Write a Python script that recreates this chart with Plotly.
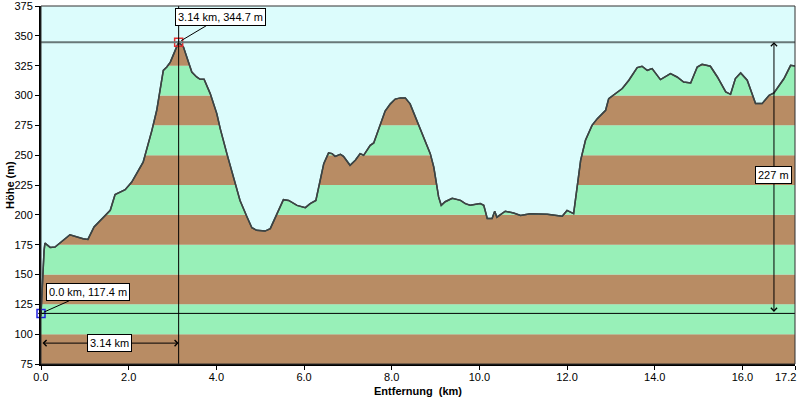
import plotly.graph_objects as go
import numpy as np

# ---- data ----
dist_km = [0.0, 0.04, 0.07, 0.09, 0.21, 0.32, 0.66, 0.96, 1.07, 1.21, 1.58, 1.69, 1.92, 2.07, 2.33,
           2.53, 2.64, 2.79, 2.87, 2.95, 3.06, 3.14, 3.25, 3.36, 3.44, 3.55, 3.63, 3.72, 3.86, 4.01,
           4.09, 4.24, 4.43, 4.54, 4.70, 4.81, 4.92, 5.11, 5.23, 5.38, 5.53, 5.65, 5.84, 6.03, 6.14,
           6.27, 6.33, 6.45, 6.56, 6.64, 6.71, 6.83, 6.90, 7.05, 7.17, 7.28, 7.36, 7.51, 7.59, 7.78,
           7.85, 7.97, 8.08, 8.20, 8.31, 8.42, 8.58, 8.73, 8.88, 8.96, 9.02, 9.07, 9.13, 9.22, 9.38,
           9.57, 9.68, 9.79, 10.02, 10.10, 10.18, 10.29, 10.35, 10.40, 10.59, 10.78, 10.94, 11.16,
           11.55, 11.89, 12.00, 12.15, 12.23, 12.31, 12.42, 12.57, 12.69, 12.88, 12.95, 13.11, 13.26,
           13.41, 13.60, 13.71, 13.83, 13.94, 14.13, 14.36, 14.51, 14.66, 14.82, 14.97, 15.08, 15.27,
           15.43, 15.62, 15.73, 15.84, 15.96, 16.11, 16.30, 16.45, 16.61, 16.72, 16.95, 17.10, 17.2]
elev_m = [117.4, 150, 170, 176.3, 172.7, 173, 183.3, 180, 179.4, 189.8, 203.8, 217, 221.1, 227.5, 244.2,
          270.8, 287.6, 321, 323.9, 328, 337.9, 344.7, 340.6, 328, 319.7, 315.5, 313.6, 313.6, 301.6, 284.8,
          272, 251.3, 226, 212, 198.2, 189.2, 187, 186.4, 188.4, 201, 212.7, 212.1, 207.9, 206, 209.4,
          212.1, 223.3, 242.9, 251.9, 251.3, 249, 250.7, 249, 241.5, 245.7, 251.3, 249.9, 258.2, 260.2, 279.2,
          287, 293, 297, 298, 298, 293, 279, 265.3, 251.3, 240, 226, 215, 208, 211, 213.9,
          212.1, 209.4, 208, 209.4, 208, 197, 197, 203, 198, 203, 201.5, 199.5, 201,
          200.4, 198.8, 203.7, 201, 223.3, 245.7, 262.5, 275, 280.6, 287.6, 297.4, 301.6, 305.8,
          312.8, 323.4, 324.5, 321.1, 322.5, 313.3, 318.3, 315.5, 311.3, 310.5, 323.9, 326.1, 324.5,
          315.5, 303, 301, 314.2, 318.9, 312.8, 293.2, 293.2, 300.2, 302.1, 314.2, 325.3, 324.8]

x_ticks = [0.0, 2.0, 4.0, 6.0, 8.0, 10.0, 12.0, 14.0, 16.0, 17.2]
x_tick_text = ["0.0", "2.0", "4.0", "6.0", "8.0", "10.0", "12.0", "14.0", "16.0", "17.2"]
y_ticks = [75, 100, 125, 150, 175, 200, 225, 250, 275, 300, 325, 350, 375]

max_point = (3.14, 344.7)
start_point = (0.0, 117.4)
dist_label = "3.14 km"
climb_label = "227 m"
climb_x = 16.72
dist_arrow_y = 92.5
x_title = "Entfernung  (km)"
y_title = "Höhe (m)"

X_MIN, X_MAX = 0.0, 17.2
Y_MIN, Y_MAX = 75, 375

SKY = "#dcfcfc"
GREEN = "#98f0b8"
BROWN = "#b88c64"
FONT = "Liberation Sans, Arial, sans-serif"

fig = go.Figure()

shapes = []
for i, lo in enumerate(range(Y_MIN, Y_MAX, 25)):
    shapes.append(dict(type="rect", xref="x", yref="y", x0=X_MIN, x1=X_MAX, y0=lo, y1=lo + 25,
                       fillcolor=BROWN if i % 2 == 0 else GREEN, line=dict(width=0), layer="below"))

fig.add_trace(go.Scatter(x=dist_km, y=elev_m, mode="lines",
                         line=dict(color="#3c4444", width=1.5), hoverinfo="skip", showlegend=False))
fig.add_trace(go.Scatter(x=dist_km, y=[Y_MAX] * len(dist_km), mode="lines", fill="tonexty",
                         fillcolor=SKY, line=dict(width=0, color=SKY), hoverinfo="skip", showlegend=False))
fig.add_trace(go.Scatter(x=dist_km, y=elev_m, mode="lines",
                         line=dict(color="#3c4444", width=1.5), hoverinfo="skip", showlegend=False))

shapes.append(dict(type="line", xref="x", yref="y", x0=X_MIN, x1=X_MAX, y0=max_point[1], y1=max_point[1],
                   line=dict(color="#687878", width=2)))
shapes.append(dict(type="line", xref="x", yref="y", x0=X_MIN, x1=X_MAX, y0=start_point[1], y1=start_point[1],
                   line=dict(color="#000000", width=1)))
shapes.append(dict(type="line", xref="x", yref="y", x0=max_point[0], x1=max_point[0], y0=Y_MIN, y1=Y_MAX,
                   line=dict(color="#000000", width=1)))
shapes.append(dict(type="rect", xref="paper", yref="paper", x0=0, x1=1, y0=0, y1=1,
                   line=dict(color="#303030", width=1)))

fig.add_trace(go.Scatter(x=[max_point[0]], y=[max_point[1]], mode="markers",
                         marker=dict(symbol="square-open", size=8, color="#e03030", line=dict(width=1.5)),
                         hoverinfo="skip", showlegend=False))
fig.add_trace(go.Scatter(x=[start_point[0]], y=[start_point[1]], mode="markers",
                         marker=dict(symbol="square-open", size=8, color="#2020e0", line=dict(width=1.5)),
                         hoverinfo="skip", showlegend=False, cliponaxis=False))
fig.add_trace(go.Scatter(x=[max_point[0], start_point[0]], y=[max_point[1], start_point[1]], mode="markers",
                         marker=dict(symbol="cross-thin", size=4, color="#000000", line=dict(width=1, color="#000")),
                         hoverinfo="skip", showlegend=False, cliponaxis=False))

ann = []
lab_font = dict(family=FONT, size=11, color="#000000")
ann.append(dict(x=max_point[0], y=max_point[1], xref="x", yref="y",
                text=f"{max_point[0]:.2f} km, {max_point[1]:.1f} m", showarrow=True, arrowhead=0,
                arrowwidth=1, arrowcolor="#000", ax=42, ay=-25, font=lab_font, bgcolor="white",
                bordercolor="#000", borderwidth=1, borderpad=2, standoff=3))
ann.append(dict(x=start_point[0], y=start_point[1], xref="x", yref="y",
                text=f"{start_point[0]:.1f} km, {start_point[1]:.1f} m", showarrow=True, arrowhead=0,
                arrowwidth=1, arrowcolor="#000", ax=47, ay=-21, font=lab_font, bgcolor="white",
                bordercolor="#000", borderwidth=1, borderpad=2, standoff=3))
ann.append(dict(x=max_point[0], y=dist_arrow_y, ax=start_point[0], ay=dist_arrow_y, xref="x", yref="y",
                axref="x", ayref="y", text="", showarrow=True, arrowhead=4, arrowside="end+start",
                arrowsize=1.2, arrowwidth=1, arrowcolor="#000"))
ann.append(dict(x=max_point[0] / 2, y=dist_arrow_y, xref="x", yref="y", text=dist_label, showarrow=False,
                font=lab_font, bgcolor="white", bordercolor="#000", borderwidth=1, borderpad=2))
ann.append(dict(x=climb_x, y=max_point[1], ax=climb_x, ay=start_point[1], xref="x", yref="y",
                axref="x", ayref="y", text="", showarrow=True, arrowhead=4, arrowside="end+start",
                arrowsize=1.2, arrowwidth=1, arrowcolor="#000"))
ann.append(dict(x=climb_x, y=233, xref="x", yref="y", text=climb_label, showarrow=False,
                font=lab_font, bgcolor="white", bordercolor="#000", borderwidth=1, borderpad=2))
ann.append(dict(x=0.5, y=0, xref="paper", yref="paper", yanchor="top", xanchor="center", yshift=-19,
                text=f"<b>{x_title}</b>", showarrow=False, font=dict(family=FONT, size=11, color="#000")))
ann.append(dict(x=0, y=0.5, xref="paper", yref="paper", xanchor="center", yanchor="middle", xshift=-31,
                text=f"<b>{y_title}</b>", textangle=-90, showarrow=False,
                font=dict(family=FONT, size=11, color="#000")))
ann.append(dict(x=x_ticks[-1], y=0, xref="x", yref="paper", yanchor="top", xanchor="right", xshift=3,
                yshift=-5, text=x_tick_text[-1], showarrow=False,
                font=dict(family=FONT, size=11, color="#000")))
shown_tick_text = x_tick_text[:-1] + [""]

fig.update_layout(
    width=800, height=397,
    margin=dict(l=41, r=5, t=6, b=33, autoexpand=False),
    paper_bgcolor="white", plot_bgcolor=SKY,
    shapes=shapes, annotations=ann,
    font=dict(family=FONT, size=11, color="#000"),
    xaxis=dict(range=[X_MIN, X_MAX], tickvals=x_ticks, ticktext=shown_tick_text, showgrid=False,
               zeroline=False, showline=True, linecolor="#000", linewidth=2, ticks="outside",
               ticklen=4, tickcolor="#000", automargin=False, ticklabeloverflow="allow",
               ticklabelstandoff=-2),
    yaxis=dict(range=[Y_MIN, Y_MAX], tickvals=y_ticks, showgrid=False, zeroline=False,
               showline=True, linecolor="#000", linewidth=2, ticks="outside", ticklen=4,
               tickcolor="#000", automargin=False, ticklabeloverflow="allow"),
)

fig.write_html("out.html", config={"displayModeBar": False},
               post_script="document.body.style.margin='0';document.body.style.overflow='hidden';")
